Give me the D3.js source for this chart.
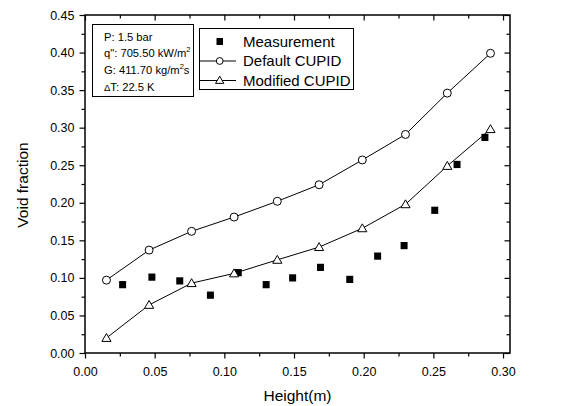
<!DOCTYPE html>
<html><head><meta charset="utf-8">
<script src="https://cdn.jsdelivr.net/npm/d3@7"></script>
<style>
body{margin:0;background:#fff}
svg{display:block;font-family:"Liberation Sans",Arial,Helvetica,sans-serif}
</style>
</head><body><svg id="c" width="565" height="406"></svg>
<script>
// ---- data ----
const modelHeights   = [0.0154, 0.046, 0.0765, 0.107, 0.138, 0.168, 0.199, 0.230, 0.260, 0.291];
const defaultCupid   = [0.097, 0.137, 0.162, 0.181, 0.202, 0.224, 0.257, 0.291, 0.346, 0.399];
const modifiedCupid  = [0.020, 0.064, 0.093, 0.106, 0.124, 0.141, 0.166, 0.198, 0.249, 0.298];
const measHeights    = [0.027, 0.048, 0.068, 0.090, 0.110, 0.130, 0.149, 0.169, 0.190, 0.210, 0.229, 0.251, 0.267, 0.287];
const measValues     = [0.091, 0.101, 0.096, 0.077, 0.107, 0.091, 0.100, 0.114, 0.098, 0.129, 0.143, 0.190, 0.251, 0.287];
const xTicks  = [0, 0.05, 0.10, 0.15, 0.20, 0.25, 0.30];
const xMinor  = [0.025, 0.075, 0.125, 0.175, 0.225, 0.275];
const yTicks  = [0, 0.05, 0.10, 0.15, 0.20, 0.25, 0.30, 0.35, 0.40, 0.45];
const yMinor  = [0.025, 0.075, 0.125, 0.175, 0.225, 0.275, 0.325, 0.375, 0.425];
const legendLabels = ["Measurement", "Default CUPID", "Modified CUPID"];
const xTitle = "Height(m)";
const yTitle = "Void fraction";

// ---- layout ----
const L = 85, R = 510, T = 15, B = 353;
const svg = d3.select("#c");
const x = d3.scaleLinear().domain([0, 0.305]).range([L, R]);
const y = d3.scaleLinear().domain([0, 0.45]).range([B, T]);
const fmt = d3.format(".2f");
const MAJ = 5.5, MIN = 3.5;

function styleAxis(g){
  g.select(".domain").remove();
  g.selectAll("line").attr("stroke","#000").attr("stroke-width",1.2);
  g.selectAll("text").attr("fill","#000").attr("font-size",12.5).attr("font-family",null);
}
// bottom
svg.append("g").attr("transform",`translate(0,${B})`)
  .call(d3.axisBottom(x).tickValues(xTicks).tickFormat(fmt).tickSize(MAJ).tickPadding(9)).call(styleAxis);
svg.append("g").attr("transform",`translate(0,${B})`)
  .call(d3.axisBottom(x).tickValues(xMinor).tickFormat("").tickSize(MIN)).call(styleAxis);
// top (inward)
svg.append("g").attr("transform",`translate(0,${T})`)
  .call(d3.axisTop(x).tickValues(xTicks).tickFormat("").tickSize(-MAJ)).call(styleAxis);
svg.append("g").attr("transform",`translate(0,${T})`)
  .call(d3.axisTop(x).tickValues(xMinor).tickFormat("").tickSize(-MIN)).call(styleAxis);
// left
svg.append("g").attr("transform",`translate(${L},0)`)
  .call(d3.axisLeft(y).tickValues(yTicks).tickFormat(fmt).tickSize(MAJ).tickPadding(5)).call(styleAxis);
svg.append("g").attr("transform",`translate(${L},0)`)
  .call(d3.axisLeft(y).tickValues(yMinor).tickFormat("").tickSize(MIN)).call(styleAxis);
// right (inward)
svg.append("g").attr("transform",`translate(${R},0)`)
  .call(d3.axisRight(y).tickValues(yTicks).tickFormat("").tickSize(-MAJ)).call(styleAxis);
svg.append("g").attr("transform",`translate(${R},0)`)
  .call(d3.axisRight(y).tickValues(yMinor).tickFormat("").tickSize(-MIN)).call(styleAxis);

// frame
svg.append("rect").attr("x",L).attr("y",T).attr("width",R-L).attr("height",B-T)
  .attr("fill","none").attr("stroke","#000").attr("stroke-width",1.5);

// titles
svg.append("text").attr("x",(L+R)/2).attr("y",401).attr("text-anchor","middle")
  .attr("font-size",15.5).text(xTitle);
svg.append("text").attr("transform",`translate(28,185) rotate(-90)`).attr("text-anchor","middle")
  .attr("font-size",15.5).text(yTitle);

// series
const line = d3.line().x(d=>x(d[0])).y(d=>y(d[1]));
const defPts = modelHeights.map((h,i)=>[h, defaultCupid[i]]);
const modPts = modelHeights.map((h,i)=>[h, modifiedCupid[i]]);
const measPts = measHeights.map((h,i)=>[h, measValues[i]]);

svg.append("path").datum(defPts).attr("d",line).attr("fill","none").attr("stroke","#000").attr("stroke-width",1);
svg.append("path").datum(modPts).attr("d",line).attr("fill","none").attr("stroke","#000").attr("stroke-width",1);

const triSym = d3.symbol().type(d3.symbolTriangle).size(36);
svg.append("g").selectAll("rect").data(measPts).join("rect")
  .attr("x",d=>x(d[0])-3.5).attr("y",d=>y(d[1])-3.6).attr("width",7).attr("height",7.2).attr("fill","#000");
svg.append("g").selectAll("circle").data(defPts).join("circle")
  .attr("cx",d=>x(d[0])).attr("cy",d=>y(d[1])).attr("r",4)
  .attr("fill","#fff").attr("stroke","#000").attr("stroke-width",1);
svg.append("g").selectAll("path").data(modPts).join("path")
  .attr("transform",d=>`translate(${x(d[0])},${y(d[1])+0.8})`).attr("d",triSym)
  .attr("fill","#fff").attr("stroke","#000").attr("stroke-width",1);

// info box
const info = svg.append("g");
info.append("rect").attr("x",92.5).attr("y",24.5).attr("width",101).attr("height",72)
  .attr("fill","#fff").attr("stroke","#000").attr("stroke-width",1);
const infoFont = 11.2, tx = 104;
info.append("text").attr("x",tx).attr("y",40.5).attr("font-size",infoFont).text("P: 1.5 bar");
const t2 = info.append("text").attr("x",tx).attr("y",57).attr("font-size",infoFont);
t2.append("tspan").text("q\": 705.50 kW/m");
t2.append("tspan").attr("dy",-5).attr("font-size",7.5).text("2");
const t3 = info.append("text").attr("x",tx).attr("y",74).attr("font-size",infoFont);
t3.append("tspan").text("G: 411.70 kg/m");
t3.append("tspan").attr("dy",-5).attr("font-size",7.5).text("2");
t3.append("tspan").attr("dy",5).text("s");
const t4 = info.append("text").attr("x",tx).attr("y",90.5).attr("font-size",infoFont);
t4.append("tspan").attr("font-size",9.5).text("\u0394");
t4.append("tspan").text("T: 22.5 K");

// legend
const lg = svg.append("g");
lg.append("rect").attr("x",199.5).attr("y",28.5).attr("width",154).attr("height",61)
  .attr("fill","#fff").attr("stroke","#000").attr("stroke-width",1);
const rows = [41.5, 61, 80.5];
legendLabels.forEach((lab,i)=>{
  const yy = rows[i];
  if(i===0){
    lg.append("rect").attr("x",216.5).attr("y",yy-3.5).attr("width",6.5).attr("height",7).attr("fill","#000");
  } else {
    lg.append("line").attr("x1",199.5).attr("x2",236).attr("y1",yy).attr("y2",yy).attr("stroke","#000");
    if(i===1){
      lg.append("circle").attr("cx",219.7).attr("cy",yy).attr("r",3.4).attr("fill","#fff").attr("stroke","#000");
    } else {
      lg.append("path").attr("transform",`translate(219.7,${yy+0.5})`).attr("d",d3.symbol().type(d3.symbolTriangle).size(30))
        .attr("fill","#fff").attr("stroke","#000");
    }
  }
  lg.append("text").attr("x",243).attr("y",yy+5.3).attr("font-size",15).text(lab);
});
</script>
</body></html>
